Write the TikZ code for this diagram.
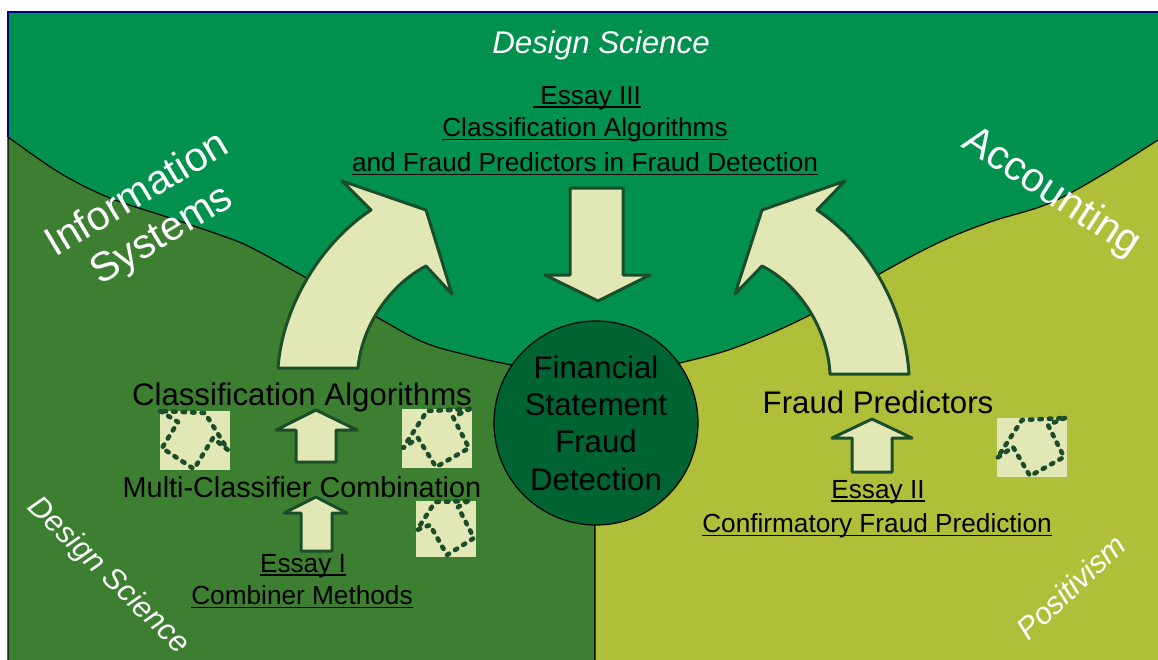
\documentclass[tikz,border=0pt]{standalone}
\usepackage{fontspec}
\setmainfont{Liberation Sans}
\definecolor{topgreen}{HTML}{00914E}
\definecolor{leftgreen}{HTML}{3D7F31}
\definecolor{rightgreen}{HTML}{AFBF39}
\definecolor{coregreen}{HTML}{006432}
\definecolor{palefill}{HTML}{E1E7B5}
\definecolor{darkedge}{HTML}{1B4D2B}
\newcommand{\fs}[1]{\fontsize{#1}{#1}\selectfont}
\newcommand{\ul}[1]{\setbox0=\hbox{#1}\rlap{\rule[-3.4pt]{\wd0}{1.5pt}}\box0}
\tikzset{
  region/.style={draw=black, line width=1.2pt},
  blockarrow/.style={draw=darkedge, fill=palefill, line width=3pt, line join=round},
  iconbox/.style={fill=palefill, draw=none},
  iconline/.style={draw=darkedge, line width=4.6pt, dash pattern=on 2.5pt off 7pt, line cap=round, line join=round},
  sidetitle/.style={text=white, font=\fs{41}, align=center},
  italictitle/.style={text=white, font=\fs{30.3}\itshape},
  essay/.style={text=black, font=\fs{26.2}, align=center, inner sep=0pt},
  label/.style={text=black, font=\fs{31.2}, inner sep=0pt},
}
\begin{document}
\begin{tikzpicture}[x=1pt,y=-1pt]
\useasboundingbox (0,0) rectangle (1158,659);

% regions
\fill[topgreen] (8,12) rectangle (1170,670);
\draw[region, fill=leftgreen] plot[smooth, tension=0.6] coordinates {(8,137) (60,173) (110,198)
  (167,217) (220,235) (250,247) (303,276) (373,315) (423,342) (467,355) (512,365) (560,372)}
  -- (595,423) -- (595,670) -- (8,670) -- cycle;
\draw[region, fill=rightgreen] plot[smooth, tension=0.6] coordinates {(1170,132) (1158,140) (1107,172)
  (1050,203) (990,222) (940,242) (883,272) (810,315) (737,347) (680,363) (640,372)}
  -- (595,423) -- (595,670) -- (1170,670) -- cycle;
\draw[blue!50!black, line width=1.2pt] (8,137) -- (8,12) -- (1170,12);

% core
\node[circle, draw=black, line width=1.2pt, fill=coregreen, minimum size=204pt, inner sep=0pt,
  font=\fs{31.2}, align=center] (core) at (596,423)
  {Financial\\[6.2pt]Statement\\[6.2pt]Fraud\\[6.2pt]Detection};

% big arrows
\draw[blockarrow] (278,368) .. controls (282,310) and (318,245) .. (371,210) -- (342,181)
  -- (426,210) -- (452,294) -- (426,266) .. controls (390,285) and (362,325) .. (358,368) -- cycle;
\draw[blockarrow] (909,374) .. controls (905,310) and (870,245) .. (817,210) -- (845,181)
  -- (762,210) -- (735,294) -- (762,266) .. controls (800,285) and (828,330) .. (830,374) -- cycle;
\draw[blockarrow] (570,188) -- (623,188) -- (623,275) -- (650,275) -- (598,301) -- (545,275)
  -- (570,275) -- cycle;

% small arrows
\draw[blockarrow] (296,462) -- (296,430) -- (276,430) -- (316,410) -- (357,430) -- (336,430)
  -- (336,462) -- cycle;
\draw[blockarrow] (301,551) -- (301,513) -- (284,513) -- (316,497) -- (347,513) -- (332,513)
  -- (332,551) -- cycle;
\draw[blockarrow] (852,472) -- (852,438) -- (832,438) -- (872,419) -- (912,438) -- (892,438)
  -- (892,472) -- cycle;

% icons
\fill[iconbox] (160,411) rectangle (230,470);
\draw[iconline] (160,411) -- (178,422) -- (162,448) -- (194,469) -- (213,438) -- (228,450)
  -- (205,413) -- cycle;
\fill[iconbox] (402,409) rectangle (472,468);
\draw[iconline] (470,409) -- (453,417) -- (469,448) -- (436,467) -- (418,438) -- (403,448)
  -- (427,411) -- cycle;
\fill[iconbox] (416,501) rectangle (476,557);
\draw[iconline] (468,501) -- (458,507) -- (474,538) -- (447,555) -- (430,525) -- (417,530)
  -- (435,502) -- cycle;
\fill[iconbox] (997,418) rectangle (1067,477);
\draw[iconline] (1065,418) -- (1048,425) -- (1064,457) -- (1030,476) -- (1013,447) -- (997,458)
  -- (1022,420) -- cycle;

% labels
\node[italictitle, font=\fs{31.3}\itshape] (design) at (601,45) {Design Science};
\node[essay] (essay3a) at (587,98) {\ul{\ Essay III}};
\node[essay] (essay3b) at (585,130) {\ul{Classification Algorithms}};
\node[essay] (essay3c) at (585,164) {\ul{and Fraud Predictors in Fraud Detection}};
\node[sidetitle, rotate=31] (infosys) at (150,216) {Information\\[6pt]Systems};
\node[sidetitle, rotate=-33] (acct) at (1051,193) {Accounting};
\node[label] (classalg) at (302,397) {Classification Algorithms};
\node[label, font=\fs{28.8}] (multi) at (302,487) {Multi-Classifier Combination};
\node[essay] (essay1a) at (303,566) {\ul{Essay I}};
\node[essay] (essay1b) at (302,597) {\ul{Combiner Methods}};
\node[label] (predictors) at (878,402) {Fraud Predictors};
\node[essay] (essay2a) at (878,492) {\ul{Essay II}};
\node[essay] (essay2b) at (877,526) {\ul{Confirmatory Fraud Prediction}};
\node[italictitle, rotate=-44] (dsleft) at (108,576) {Design Science};
\node[italictitle, rotate=43] (positiv) at (1071,587) {Positivism};
\end{tikzpicture}
\end{document}
